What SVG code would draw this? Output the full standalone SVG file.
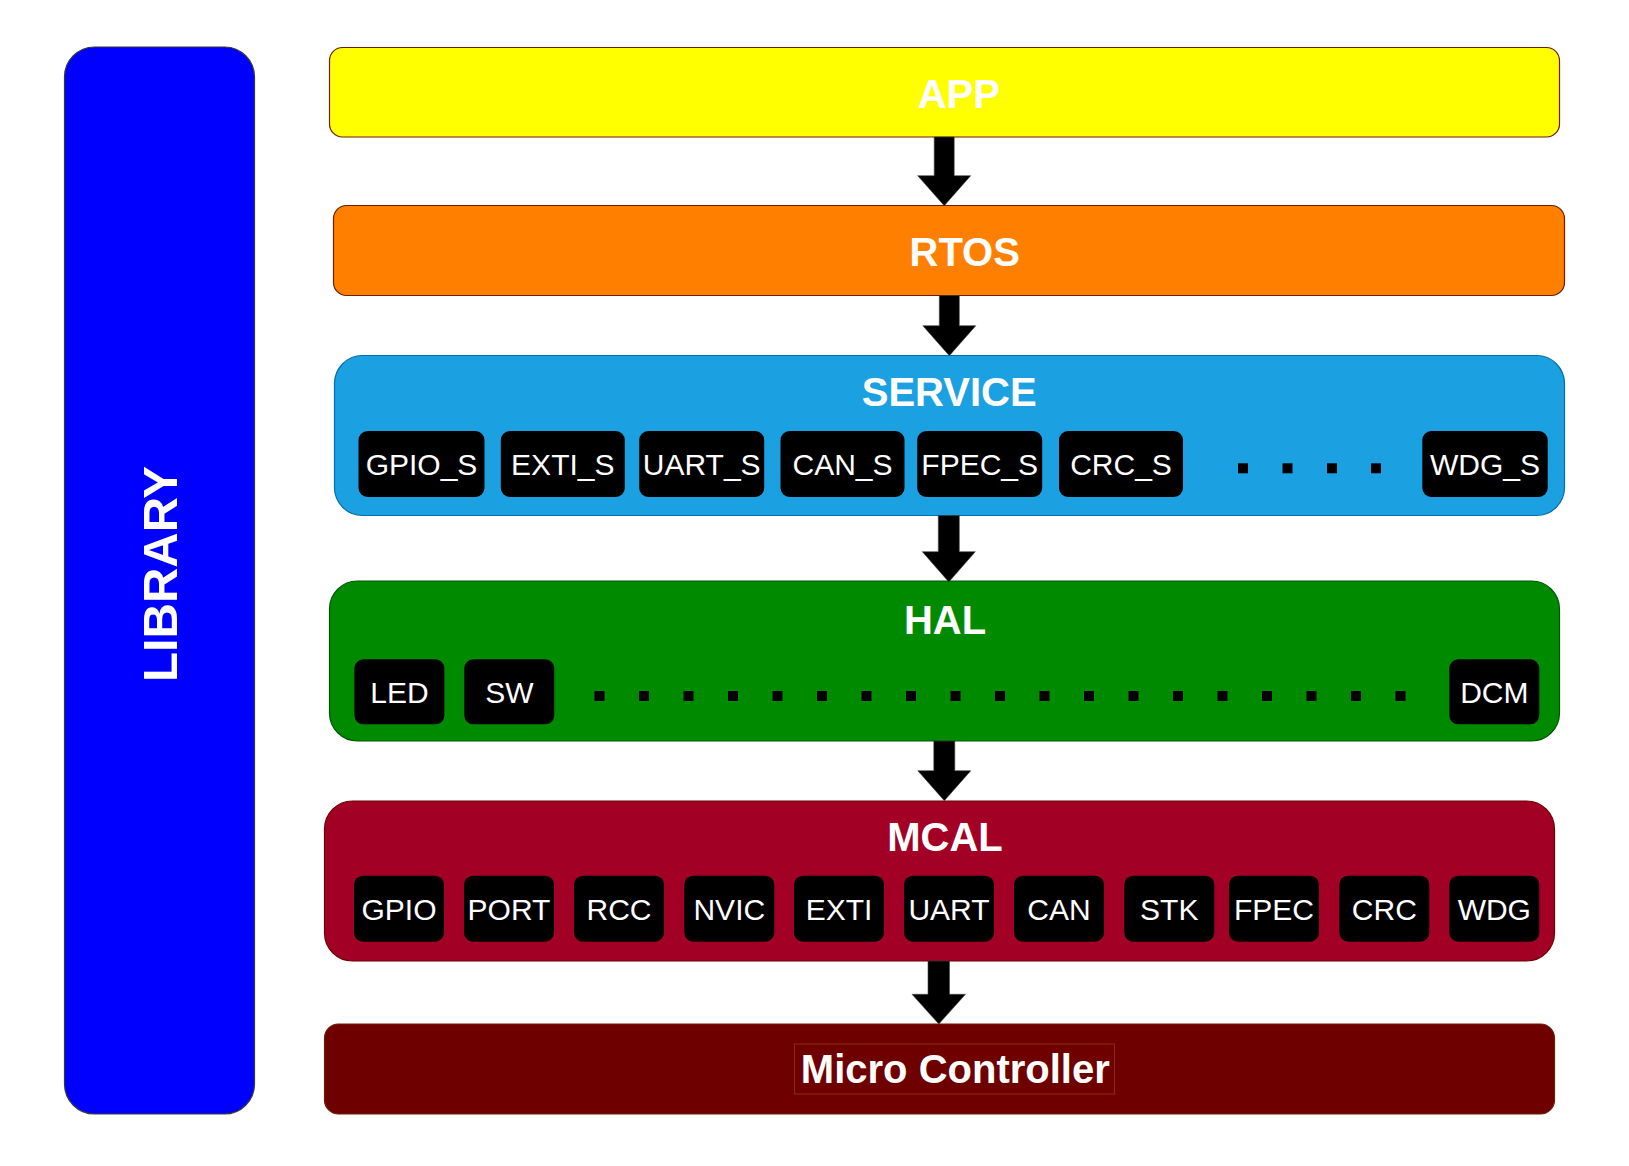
<svg xmlns="http://www.w3.org/2000/svg" width="1629" height="1166" viewBox="0 0 1629 1166">
<style>
.title{font-family:"Liberation Sans",Arial,sans-serif;font-weight:bold;font-size:40px;fill:#ffffff;text-anchor:middle}
.sub{font-family:"Liberation Sans",Arial,sans-serif;font-size:30px;fill:#ffffff;text-anchor:middle}
.chip{fill:#000000}
.dot{fill:#000000}
.arrow{fill:#000000;stroke:#444444;stroke-width:0.6}
</style>
<rect width="1629" height="1166" fill="#ffffff"/>
<g id="library">
<rect x="64.5" y="47" width="190" height="1067" rx="30" fill="#0000ff" stroke="#36393d" stroke-width="1.2"/>
<text class="title" style="font-size:49px" transform="translate(177,574) rotate(-90)">LIBRARY</text>
</g>
<g id="app">
<rect x="329.5" y="47.5" width="1230" height="89.5" rx="13" fill="#ffff00" stroke="#6d1f00" stroke-width="1.2"/>
<text class="title" x="958.8" y="107.7">APP</text>
</g>
<g id="rtos">
<rect x="333.5" y="205.5" width="1231" height="90" rx="13" fill="#ff8000" stroke="#6d1f00" stroke-width="1.2"/>
<text class="title" x="964.7" y="265.7">RTOS</text>
</g>
<g id="service">
<rect x="334.5" y="355.5" width="1230" height="160" rx="28" fill="#1ba1e2" stroke="#006eaf" stroke-width="1.2"/>
<text class="title" x="949.2" y="405.7">SERVICE</text>
<rect class="chip" x="358.5" y="431" width="126" height="66" rx="9"/>
<text class="sub" x="421.5" y="475">GPIO_S</text>
<rect class="chip" x="500.8" y="431" width="124" height="66" rx="9"/>
<text class="sub" x="562.8" y="475">EXTI_S</text>
<rect class="chip" x="639.2" y="431" width="125" height="66" rx="9"/>
<text class="sub" x="701.7" y="475">UART_S</text>
<rect class="chip" x="780.5" y="431" width="124" height="66" rx="9"/>
<text class="sub" x="842.5" y="475">CAN_S</text>
<rect class="chip" x="917.2" y="431" width="125" height="66" rx="9"/>
<text class="sub" x="979.7" y="475">FPEC_S</text>
<rect class="chip" x="1059" y="431" width="124" height="66" rx="9"/>
<text class="sub" x="1121" y="475">CRC_S</text>
<rect class="dot" x="1238" y="463.3" width="10" height="10"/>
<rect class="dot" x="1282.5" y="463.3" width="10" height="10"/>
<rect class="dot" x="1327" y="463.3" width="10" height="10"/>
<rect class="dot" x="1371" y="463.3" width="10" height="10"/>
<rect class="chip" x="1422.3" y="431" width="125.4" height="66" rx="9"/>
<text class="sub" x="1485" y="475">WDG_S</text>
</g>
<g id="hal">
<rect x="329.5" y="581" width="1230" height="160" rx="28" fill="#008a00" stroke="#005700" stroke-width="1.2"/>
<text class="title" x="945" y="634">HAL</text>
<rect class="chip" x="354.4" y="659.3" width="90" height="65" rx="9"/>
<text class="sub" x="399.4" y="702.7">LED</text>
<rect class="chip" x="464.3" y="659.3" width="90" height="65" rx="9"/>
<text class="sub" x="509.3" y="702.7">SW</text>
<g class="dot">
<rect x="594.5" y="691" width="10" height="10"/>
<rect x="639" y="691" width="10" height="10"/>
<rect x="683.5" y="691" width="10" height="10"/>
<rect x="728" y="691" width="10" height="10"/>
<rect x="772.5" y="691" width="10" height="10"/>
<rect x="817" y="691" width="10" height="10"/>
<rect x="861.5" y="691" width="10" height="10"/>
<rect x="906" y="691" width="10" height="10"/>
<rect x="950.5" y="691" width="10" height="10"/>
<rect x="995" y="691" width="10" height="10"/>
<rect x="1039.5" y="691" width="10" height="10"/>
<rect x="1084" y="691" width="10" height="10"/>
<rect x="1128.5" y="691" width="10" height="10"/>
<rect x="1173" y="691" width="10" height="10"/>
<rect x="1217.5" y="691" width="10" height="10"/>
<rect x="1262" y="691" width="10" height="10"/>
<rect x="1306.5" y="691" width="10" height="10"/>
<rect x="1351" y="691" width="10" height="10"/>
<rect x="1395.5" y="691" width="10" height="10"/>
</g>
<rect class="chip" x="1449.3" y="659.3" width="90" height="65" rx="9"/>
<text class="sub" x="1494.3" y="702.7">DCM</text>
</g>
<g id="mcal">
<rect x="324.5" y="801" width="1230" height="160" rx="28" fill="#a20025" stroke="#6f0000" stroke-width="1.2"/>
<text class="title" x="945" y="851">MCAL</text>
<rect class="chip" x="354" y="875.7" width="90" height="66" rx="9"/>
<text class="sub" x="399" y="920">GPIO</text>
<rect class="chip" x="464" y="875.7" width="90" height="66" rx="9"/>
<text class="sub" x="509" y="920">PORT</text>
<rect class="chip" x="574" y="875.7" width="90" height="66" rx="9"/>
<text class="sub" x="619" y="920">RCC</text>
<rect class="chip" x="684.3" y="875.7" width="90" height="66" rx="9"/>
<text class="sub" x="729.3" y="920">NVIC</text>
<rect class="chip" x="794" y="875.7" width="90" height="66" rx="9"/>
<text class="sub" x="839" y="920">EXTI</text>
<rect class="chip" x="904" y="875.7" width="90" height="66" rx="9"/>
<text class="sub" x="949" y="920">UART</text>
<rect class="chip" x="1014" y="875.7" width="90" height="66" rx="9"/>
<text class="sub" x="1059" y="920">CAN</text>
<rect class="chip" x="1124.3" y="875.7" width="90" height="66" rx="9"/>
<text class="sub" x="1169.3" y="920">STK</text>
<rect class="chip" x="1229" y="875.7" width="90" height="66" rx="9"/>
<text class="sub" x="1274" y="920">FPEC</text>
<rect class="chip" x="1339.3" y="875.7" width="90" height="66" rx="9"/>
<text class="sub" x="1384.3" y="920">CRC</text>
<rect class="chip" x="1449.3" y="875.7" width="90" height="66" rx="9"/>
<text class="sub" x="1494.3" y="920">WDG</text>
</g>
<g id="micro">
<rect x="324.5" y="1024" width="1230" height="90" rx="14" fill="#6f0000" stroke="#6d1f00" stroke-width="1.2"/>
<rect x="794.5" y="1044" width="320" height="50" fill="none" stroke="#8a3000" stroke-width="1"/>
<text class="title" x="955.3" y="1083.3">Micro Controller</text>
</g>
<g id="connectors">
<polygon class="arrow" points="934.2,137 954.2,137 954.2,175.7 970.7,175.7 944.2,205.7 917.7,175.7 934.2,175.7"/>
<polygon class="arrow" points="939.3,295.5 959.3,295.5 959.3,325.7 975.8,325.7 949.3,355.7 922.8,325.7 939.3,325.7"/>
<polygon class="arrow" points="938.3,515.5 959.3,515.5 959.3,551.7 975.3,551.7 948.8,582 922.3,551.7 938.3,551.7"/>
<polygon class="arrow" points="933.8,741 954.8,741 954.8,770.7 970.8,770.7 944.3,800.7 917.8,770.7 933.8,770.7"/>
<polygon class="arrow" points="928,961 949.5,961 949.5,994.3 965.5,994.3 938.8,1024 912,994.3 928,994.3"/>
</g>
</svg>
